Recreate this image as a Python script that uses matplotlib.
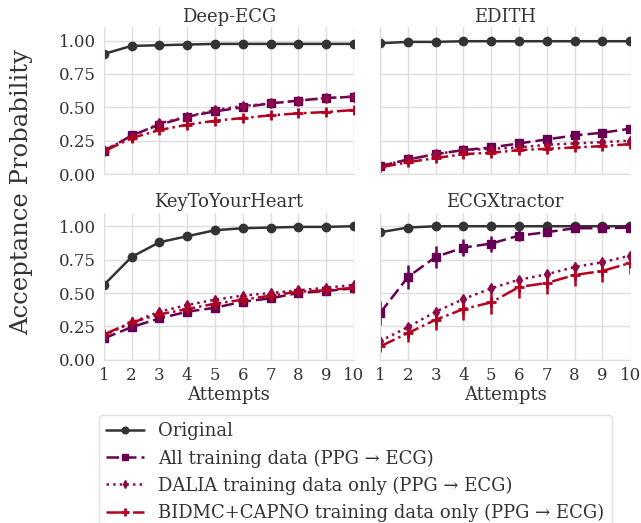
import numpy as np
import matplotlib
matplotlib.use("Agg")
import matplotlib.pyplot as plt
import seaborn as sns

sns.set_style("whitegrid")
plt.rcParams['font.family'] = ['DejaVu Serif']
plt.rcParams['text.color'] = '#333333'
plt.rcParams['axes.labelcolor'] = '#333333'
plt.rcParams['xtick.color'] = '#333333'
plt.rcParams['ytick.color'] = '#333333'

attempts = np.arange(1, 11)
titles = ['Deep-ECG', 'EDITH', 'KeyToYourHeart', 'ECGXtractor']
labels = ['Original',
          'All training data (PPG \u2192 ECG)',
          'DALIA training data only (PPG \u2192 ECG)',
          'BIDMC+CAPNO training data only (PPG \u2192 ECG)']

# values per dataset: [original, all, dalia, bidmc]
deep_ecg = [
    [0.90, 0.96, 0.965, 0.97, 0.975, 0.975, 0.975, 0.975, 0.975, 0.975],
    [0.17, 0.29, 0.37, 0.43, 0.47, 0.50, 0.53, 0.55, 0.57, 0.58],
    [0.18, 0.28, 0.38, 0.43, 0.48, 0.51, 0.53, 0.55, 0.57, 0.58],
    [0.17, 0.27, 0.33, 0.37, 0.40, 0.42, 0.44, 0.455, 0.465, 0.48],
]
edith = [
    [0.98, 0.99, 0.99, 0.995, 0.995, 0.995, 0.995, 0.995, 0.995, 0.995],
    [0.06, 0.11, 0.15, 0.18, 0.20, 0.23, 0.26, 0.29, 0.31, 0.34],
    [0.06, 0.11, 0.15, 0.18, 0.19, 0.20, 0.22, 0.23, 0.24, 0.25],
    [0.05, 0.09, 0.12, 0.15, 0.16, 0.18, 0.19, 0.20, 0.21, 0.225],
]
key_heart = [
    [0.56, 0.77, 0.88, 0.925, 0.97, 0.985, 0.99, 0.995, 0.995, 1.0],
    [0.16, 0.245, 0.31, 0.36, 0.39, 0.435, 0.46, 0.50, 0.515, 0.535],
    [0.18, 0.28, 0.36, 0.41, 0.45, 0.48, 0.50, 0.52, 0.54, 0.56],
    [0.19, 0.28, 0.34, 0.38, 0.42, 0.45, 0.48, 0.51, 0.52, 0.54],
]
ecgx = [
    [0.955, 0.99, 1.0, 1.0, 1.0, 1.0, 1.0, 1.0, 1.0, 1.0],
    [0.35, 0.62, 0.77, 0.84, 0.87, 0.93, 0.955, 0.985, 0.985, 0.99],
    [0.14, 0.245, 0.36, 0.455, 0.535, 0.60, 0.64, 0.695, 0.73, 0.78],
    [0.10, 0.20, 0.30, 0.38, 0.43, 0.545, 0.575, 0.635, 0.665, 0.725],
]
ecgx_err = [
    [0.02, 0.01, 0.005, 0.005, 0.005, 0.005, 0.005, 0.005, 0.005, 0.005],
    [0.09, 0.09, 0.08, 0.065, 0.06, 0.04, 0.03, 0.025, 0.03, 0.02],
    [0.02, 0.02, 0.02, 0.02, 0.02, 0.02, 0.02, 0.02, 0.02, 0.02],
    [0.04, 0.07, 0.08, 0.08, 0.09, 0.085, 0.08, 0.08, 0.08, 0.08],
]
small_err = [0.01] * 10
all_data = [deep_ecg, edith, key_heart, ecgx]

colors = ['#333333', '#670052', '#8c0a4a', '#b3001f']
styles = ['-', (0, (5, 2)), ':', '-.']
markers = ['o', 's', 'd', '+']
msizes = [6, 6, 5, 7]

fig = plt.figure(figsize=(6.41, 5.23), dpi=100)
boxes = [(0.162, 0.667), (0.593, 0.667), (0.162, 0.312), (0.593, 0.312)]
handles = []
for i, (x0, y0) in enumerate(boxes):
    ax = fig.add_axes([x0, y0, 0.390, 0.281])
    for j in range(4):
        err = ecgx_err[j] if i == 3 else small_err
        h = ax.errorbar(attempts, all_data[i][j], yerr=err, color=colors[j],
                        linestyle=styles[j], marker=markers[j], markersize=msizes[j],
                        markeredgewidth=2 if j == 3 else 1, linewidth=1.8,
                        elinewidth=1.8, capsize=0, label=labels[j])
        if i == 0:
            handles.append(h[0])
    ax.set_xlim(1, 10)
    ax.set_ylim(0, 1.1)
    ax.set_xticks(attempts)
    ax.set_yticks([0, 0.25, 0.5, 0.75, 1.0])
    ax.set_title(titles[i], fontsize=13, pad=4)
    ax.tick_params(labelsize=12, pad=2)
    ax.grid(color='#dddddd', linewidth=1)
    sns.despine(ax=ax)
    for s in ['left', 'bottom']:
        ax.spines[s].set_color('#dddddd')
    if i < 2:
        ax.set_xticklabels([])
    else:
        ax.set_xlabel('Attempts', fontsize=13, labelpad=1)
    if i % 2 == 1:
        ax.set_yticklabels([])

fig.text(0.034, 0.633, 'Acceptance Probability', rotation=90, fontsize=17.5,
         ha='center', va='center')

leg = fig.legend(handles, labels, loc='upper center', bbox_to_anchor=(0.5546, 0.2065),
                 fontsize=13, frameon=True, handlelength=2.1, handletextpad=0.78,
                 labelspacing=0.5, borderaxespad=0, markerscale=0.8)
leg.get_frame().set_edgecolor('#dddddd')

fig.savefig('out.png', dpi=100)
